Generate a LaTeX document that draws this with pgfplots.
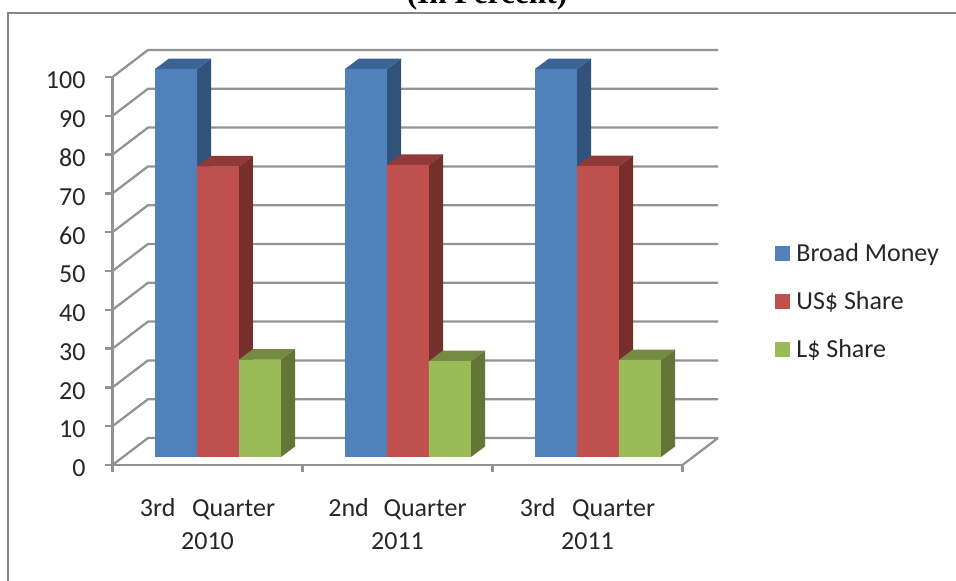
\documentclass[border=0pt]{standalone}
\usepackage{fontspec}
\setmainfont{Carlito}
\newfontfamily\titlefont{Liberation Serif}
\usepackage{pgfplots}
\pgfplotsset{compat=1.18}
\definecolor{blueF}{HTML}{4F81BD}
\definecolor{blueS}{HTML}{30527B}
\definecolor{blueT}{HTML}{3B6494}
\definecolor{redF}{HTML}{C0504D}
\definecolor{redS}{HTML}{772F2D}
\definecolor{redT}{HTML}{8F3A38}
\definecolor{greenF}{HTML}{9BBB59}
\definecolor{greenS}{HTML}{637537}
\definecolor{greenT}{HTML}{748C42}
\definecolor{framegray}{HTML}{939393}
\definecolor{bordergray}{HTML}{868686}
\begin{document}
\begin{tikzpicture}[x=0.75pt,y=0.75pt]
  % page is 956x581 px, origin is the front corner of the chart at (112.5,465)
  \path[use as bounding box] (-112.5,-116) rectangle (843.5,465);
  \draw[bordergray,line width=1.8pt] (-104.5,-140) -- (-104.5,452) -- (860,452);
  \node[font=\titlefont\bfseries\fontsize{23.5}{24}\selectfont,anchor=base,inner sep=0pt] at (374.5,461.5) {(In Percent)};

  % walls and floor
  \begin{axis}[
    at={(0pt,0pt)}, anchor=origin,
    scale only axis, width=454.125pt, height=311.25pt,
    xmin=0, xmax=3.1868, ymin=0, ymax=106.96,
    clip=false,
    axis x line=bottom, axis y line=left,
    axis line style={draw=none},
    xtick={0,1,2,3},
    xticklabels={{3rd\hspace{12.5pt}Quarter\\2010},{2nd\hspace{11pt}Quarter\\2011},{3rd\hspace{12.5pt}Quarter\\2011}},
    x tick label as interval,
    ytick={0,10,...,100},
    tick align=outside,
    major tick length=5.25pt,
    tick style={framegray,line width=1.7pt},
    /pgf/number format/assume math mode=true,
    tick label style={font=\fontsize{19.5}{24.75}\selectfont,text=black!85},
    x tick label style={align=center,yshift=-16pt},
    y tick label style={xshift=-11.5pt,yshift=-2.5pt},
    frame/.style={framegray,line width=1.7pt,no markers,forget plot},
  ]
    \addplot[frame] coordinates {(0,0) (3,0)};
    \addplot[frame] coordinates {(0,0) (0,100)};
    \addplot[frame] coordinates {(3,0) (3.1868,6.96)};
    \addplot[frame] coordinates {(0,0) (0.1868,6.96) (3.1868,6.96)};
    \addplot[frame] coordinates {(0,10) (0.1868,16.96) (3.1868,16.96)};
    \addplot[frame] coordinates {(0,20) (0.1868,26.96) (3.1868,26.96)};
    \addplot[frame] coordinates {(0,30) (0.1868,36.96) (3.1868,36.96)};
    \addplot[frame] coordinates {(0,40) (0.1868,46.96) (3.1868,46.96)};
    \addplot[frame] coordinates {(0,50) (0.1868,56.96) (3.1868,56.96)};
    \addplot[frame] coordinates {(0,60) (0.1868,66.96) (3.1868,66.96)};
    \addplot[frame] coordinates {(0,70) (0.1868,76.96) (3.1868,76.96)};
    \addplot[frame] coordinates {(0,80) (0.1868,86.96) (3.1868,86.96)};
    \addplot[frame] coordinates {(0,90) (0.1868,96.96) (3.1868,96.96)};
    \addplot[frame] coordinates {(0,100) (0.1868,106.96) (3.1868,106.96)};
  \end{axis}

  % bars, their plane sits 10.5 px right and 8 px up of the chart's front edge
  \begin{axis}[
    at={(7.875pt,6pt)}, anchor=origin,
    scale only axis, width=427.5pt, height=291pt,
    xmin=0, xmax=3, ymin=0, ymax=100,
    clip=false,
    hide axis,
    ybar,
    bar width=0.221,
    face/.style={draw=none,forget plot,sharp plot,mark=none,bar shift=0pt},
    legend style={
      at={(1.1439,0.5567)}, anchor=north west, draw=none, fill=none,
      font=\fontsize{19.5}{24}\selectfont, text=black!85,
      row sep=17pt, inner sep=0pt, outer sep=0pt,
      /tikz/column 1/.style={column sep=3pt},
    },
    legend cell align=left,
    legend image code/.code={
      \fill[#1] (0pt,-5.5pt) rectangle (11pt,5.5pt);
    },
  ]
    % Broad Money
    \addplot[face,fill=blueS] coordinates {(0.3895,0) (0.4632,2.7) (0.4632,102.7) (0.3895,100)};
    \addplot[face,fill=blueT] coordinates {(0.1684,100) (0.2421,102.7) (0.4632,102.7) (0.3895,100)};
    \addplot[face,fill=blueS] coordinates {(1.3895,0) (1.4632,2.7) (1.4632,102.7) (1.3895,100)};
    \addplot[face,fill=blueT] coordinates {(1.1684,100) (1.2421,102.7) (1.4632,102.7) (1.3895,100)};
    \addplot[face,fill=blueS] coordinates {(2.3895,0) (2.4632,2.7) (2.4632,102.7) (2.3895,100)};
    \addplot[face,fill=blueT] coordinates {(2.1684,100) (2.2421,102.7) (2.4632,102.7) (2.3895,100)};
    \addplot[draw=none,fill=blueF,bar shift=-0.221] coordinates {(0.5,100) (1.5,100) (2.5,100)};
    \addlegendentry{Broad Money}
    % US$ Share
    \addplot[face,fill=redS] coordinates {(0.6105,0) (0.6842,2.7) (0.6842,77.6) (0.6105,74.9)};
    \addplot[face,fill=redT] coordinates {(0.3895,74.9) (0.4632,77.6) (0.6842,77.6) (0.6105,74.9)};
    \addplot[face,fill=redS] coordinates {(1.6105,0) (1.6842,2.7) (1.6842,78) (1.6105,75.3)};
    \addplot[face,fill=redT] coordinates {(1.3895,75.3) (1.4632,78) (1.6842,78) (1.6105,75.3)};
    \addplot[face,fill=redS] coordinates {(2.6105,0) (2.6842,2.7) (2.6842,77.7) (2.6105,75)};
    \addplot[face,fill=redT] coordinates {(2.3895,75) (2.4632,77.7) (2.6842,77.7) (2.6105,75)};
    \addplot[draw=none,fill=redF,bar shift=0] coordinates {(0.5,74.9) (1.5,75.3) (2.5,75)};
    \addlegendentry{US\$ Share}
    % L$ Share
    \addplot[face,fill=greenS] coordinates {(0.8316,0) (0.9053,2.7) (0.9053,27.8) (0.8316,25.1)};
    \addplot[face,fill=greenT] coordinates {(0.6105,25.1) (0.6842,27.8) (0.9053,27.8) (0.8316,25.1)};
    \addplot[face,fill=greenS] coordinates {(1.8316,0) (1.9053,2.7) (1.9053,27.4) (1.8316,24.7)};
    \addplot[face,fill=greenT] coordinates {(1.6105,24.7) (1.6842,27.4) (1.9053,27.4) (1.8316,24.7)};
    \addplot[face,fill=greenS] coordinates {(2.8316,0) (2.9053,2.7) (2.9053,27.7) (2.8316,25)};
    \addplot[face,fill=greenT] coordinates {(2.6105,25) (2.6842,27.7) (2.9053,27.7) (2.8316,25)};
    \addplot[draw=none,fill=greenF,bar shift=0.221] coordinates {(0.5,25.1) (1.5,24.7) (2.5,25)};
    \addlegendentry{L\$ Share}
  \end{axis}
\end{tikzpicture}
\end{document}
